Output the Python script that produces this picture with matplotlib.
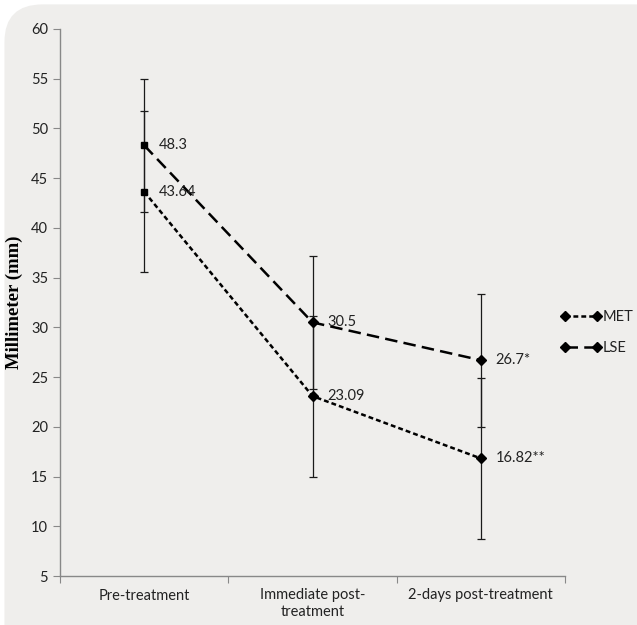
import matplotlib.pyplot as plt
from matplotlib.patches import FancyBboxPatch

# data
phases = ['Pre-treatment', 'Immediate post-\ntreatment', '2-days post-treatment']
met = [43.64, 23.09, 16.82]
met_err = [8.1, 8.1, 8.1]
lse = [48.3, 30.5, 26.7]
lse_err = [6.7, 6.7, 6.7]
met_labels = ['43.64', '23.09', '16.82**']
lse_labels = ['48.3', '30.5', '26.7*']

plt.rcParams['lines.scale_dashes'] = False
plt.rcParams['font.family'] = ['Lato', 'DejaVu Sans']

fig = plt.figure(figsize=(6.37, 6.25), dpi=100)
fig.patch.set_facecolor('white')
bg = FancyBboxPatch((0.007, -0.1), 1.05, 1.093, boxstyle='round,pad=0,rounding_size=0.06',
                    transform=fig.transFigure, facecolor='#efeeec', edgecolor='none', zorder=-5)
fig.patches.append(bg)

ax = fig.add_axes([0.0942, 0.0784, 0.7928, 0.8752])
ax.set_facecolor('none')
x = list(range(len(phases)))

# error bars first
ax.errorbar(x, met, yerr=met_err, fmt='none', ecolor='#1a1a1a', elinewidth=0.9,
            capsize=3, capthick=0.9, zorder=2)
ax.errorbar(x, lse, yerr=lse_err, fmt='none', ecolor='#1a1a1a', elinewidth=0.9,
            capsize=3, capthick=0.9, zorder=2)

ax.plot(x, met, color='black', lw=1.8, dashes=(3.5, 2.2), marker='D', markersize=5,
        markevery=[1, 2], label='MET', zorder=3)
ax.plot(x, lse, color='black', lw=1.8, dashes=(9, 4.5), marker='D', markersize=5,
        markevery=[1, 2], label='LSE', zorder=3)
# first points drawn as squares
ax.plot([x[0], x[0]], [met[0], lse[0]], ls='none', marker='s', markersize=5,
        color='black', zorder=4)

for i in x:
    ax.annotate(met_labels[i], (i, met[i]), xytext=(10.5, 0), textcoords='offset points',
                va='center', ha='left', fontsize=10.5, color='#222222')
    ax.annotate(lse_labels[i], (i, lse[i]), xytext=(10.5, 0), textcoords='offset points',
                va='center', ha='left', fontsize=10.5, color='#222222')

ax.set_xlim(-0.5, 2.5)
ax.set_ylim(5, 60)
ax.set_yticks(range(5, 61, 5))
ax.set_xticks([-0.5, 0.5, 1.5, 2.5])
ax.set_xticklabels([])
ax.set_xticks(x, minor=True)
ax.set_xticklabels(phases, minor=True, fontsize=10.5, color='#222222')
ax.tick_params(axis='x', which='minor', length=0, pad=9)
ax.tick_params(axis='x', which='major', length=5, color='#888888')
ax.tick_params(axis='y', length=5, color='#888888', labelsize=10.5, labelcolor='#222222')

for s in ['top', 'right']:
    ax.spines[s].set_visible(False)
for s in ['left', 'bottom']:
    ax.spines[s].set_color('#888888')
    ax.spines[s].set_linewidth(1)

ax.set_ylabel('Millimeter (mm)', family='Liberation Serif', fontweight='bold',
              fontsize=13.5, labelpad=6)

leg = ax.legend(loc='upper left', bbox_to_anchor=(0.98, 0.497), frameon=False,
                numpoints=2, handlelength=2.8, handletextpad=0.1, labelspacing=1.2,
                fontsize=10.5, borderaxespad=0)
for t in leg.get_texts():
    t.set_color('#222222')

fig.savefig('out.png', dpi=100, facecolor=fig.get_facecolor())
